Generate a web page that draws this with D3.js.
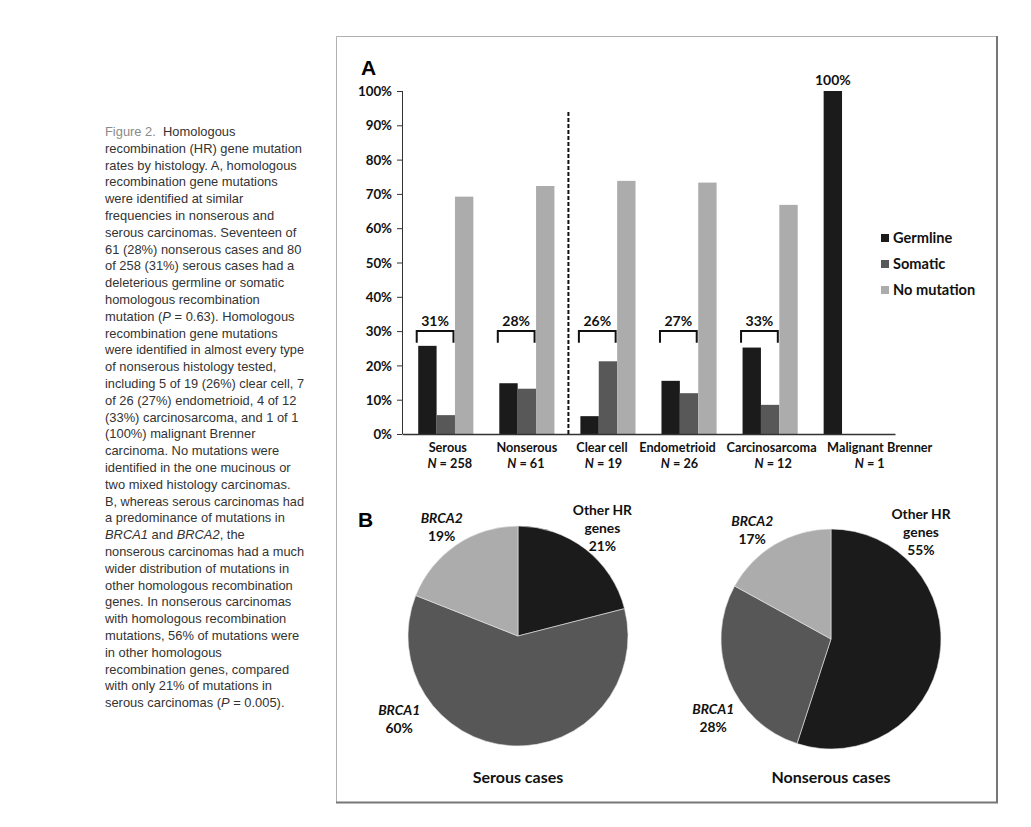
<!DOCTYPE html>
<html>
<head>
<meta charset="utf-8">
<script src="https://cdn.jsdelivr.net/npm/d3@7"></script>
<style>
  body { margin: 0; background: #fff; }
  svg { display: block; }
  .lbl { font-family: Lato, 'Open Sans', sans-serif; font-weight: 700; fill: #111; }
</style>
</head>
<body>
<div id="chart"></div>
<script>
// bar chart data (A)
const categories = ['Serous', 'Nonserous', 'Clear cell', 'Endometrioid', 'Carcinosarcoma', 'Malignant Brenner'];
const caseCounts = [258, 61, 19, 26, 12, 1];
const series = ['Germline', 'Somatic', 'No mutation'];
const germline = [25.7, 14.8, 5.2, 15.5, 25.2, 100];
const somatic = [5.5, 13.2, 21.2, 11.9, 8.5, 0];
const noMutation = [69.2, 72.3, 73.8, 73.3, 66.8, 0];
const hrRates = ['31%', '28%', '26%', '27%', '33%', null];
const yTicks = [0, 10, 20, 30, 40, 50, 60, 70, 80, 90, 100];

// pie data (B)
const pieGenes = ['Other HR genes', 'BRCA1', 'BRCA2'];
const serousShares = [21, 60, 19];
const nonserousShares = [55, 28, 17];

const caption = [
  '#Figure 2.#  Homologous',
  'recombination (HR) gene mutation',
  'rates by histology. A, homologous',
  'recombination gene mutations',
  'were identified at similar',
  'frequencies in nonserous and',
  'serous carcinomas. Seventeen of',
  '61 (28%) nonserous cases and 80',
  'of 258 (31%) serous cases had a',
  'deleterious germline or somatic',
  'homologous recombination',
  'mutation (*P* = 0.63). Homologous',
  'recombination gene mutations',
  'were identified in almost every type',
  'of nonserous histology tested,',
  'including 5 of 19 (26%) clear cell, 7',
  'of 26 (27%) endometrioid, 4 of 12',
  '(33%) carcinosarcoma, and 1 of 1',
  '(100%) malignant Brenner',
  'carcinoma. No mutations were',
  'identified in the one mucinous or',
  'two mixed histology carcinomas.',
  'B, whereas serous carcinomas had',
  'a predominance of mutations in',
  '*BRCA1* and *BRCA2*, the',
  'nonserous carcinomas had a much',
  'wider distribution of mutations in',
  'other homologous recombination',
  'genes. In nonserous carcinomas',
  'with homologous recombination',
  'mutations, 56% of mutations were',
  'in other homologous',
  'recombination genes, compared',
  'with only 21% of mutations in',
  'serous carcinomas (*P* = 0.005).'
];

const width = 1031, height = 827;
const svg = d3.select('#chart').append('svg')
  .attr('width', width)
  .attr('height', height);

// caption column
const cap = svg.append('g')
  .attr('font-family', "'Liberation Sans', Arial, sans-serif")
  .attr('font-size', 12.9)
  .attr('fill', '#333');

caption.forEach((line, i) => {
  const t = cap.append('text').attr('x', 105).attr('y', 136 + i * 16.8);
  line.split(/([#*][^#*]+[#*])/).filter(s => s.length).forEach(seg => {
    const ts = t.append('tspan').attr('xml:space', 'preserve');
    if (seg[0] === '*') ts.attr('font-style', 'italic').text(seg.slice(1, -1));
    else if (seg[0] === '#') ts.attr('fill', '#8a8a8a').text(seg.slice(1, -1));
    else ts.text(seg);
  });
  const w = t.node().getComputedTextLength();
  if (w > 199) t.attr('textLength', 199).attr('lengthAdjust', 'spacingAndGlyphs');
});

// frame
svg.append('path')
  .attr('d', 'M336.5,802 V36.5 H997')
  .attr('fill', 'none').attr('stroke', '#b0b0b0').attr('stroke-width', 1);
svg.append('path')
  .attr('d', 'M336,802.5 H997 V36')
  .attr('fill', 'none').attr('stroke', '#777').attr('stroke-width', 2);

svg.append('text').attr('x', 361).attr('y', 75)
  .attr('font-family', "'Liberation Sans', Arial, sans-serif")
  .attr('font-weight', 700).attr('font-size', 21).text('A');
svg.append('text').attr('x', 358).attr('y', 527)
  .attr('font-family', "'Liberation Sans', Arial, sans-serif")
  .attr('font-weight', 700).attr('font-size', 21).text('B');

// ---- A: grouped bars ----
const values = { 'Germline': germline, 'Somatic': somatic, 'No mutation': noMutation };
const colors = d3.scaleOrdinal().domain(series).range(['#1b1b1b', '#585858', '#acacac']);

const x = d3.scaleBand().domain(categories).range([402, 895])
  .paddingInner(0.32).paddingOuter(0.2);
const xs = d3.scaleBand().domain(series).range([0, x.bandwidth()]);
const y = d3.scaleLinear().domain([0, 100]).range([434, 91]);

const bars = svg.append('g');
categories.forEach((c, i) => {
  bars.selectAll(null)
    .data(series.filter(s => values[s][i] > 0))
    .join('rect')
    .attr('x', s => x(c) + xs(s))
    .attr('y', s => y(values[s][i]))
    .attr('width', xs.bandwidth())
    .attr('height', s => y(0) - y(values[s][i]))
    .attr('fill', s => colors(s));
});

const yAxis = svg.append('g')
  .attr('transform', 'translate(402,0)')
  .call(d3.axisLeft(y).tickValues(yTicks).tickFormat(d => d + '%').tickSize(5).tickSizeOuter(0).tickPadding(5));
yAxis.selectAll('path, line').attr('stroke', '#333');
yAxis.selectAll('text').attr('class', 'lbl').attr('font-size', 13.3).attr('dy', '0.35em');
yAxis.select('.domain').attr('d', 'M0.5,' + y(100) + 'V' + y(0));

// category labels are nudged sideways (as the original layout does) so they do not collide
const nameShift = [2, 0, -6, -11.5, 1.5, 28.5];
const countShift = [4, -1, -4.5, -9.5, 3, 18.5];
const xAxis = svg.append('g')
  .attr('transform', 'translate(0,' + y(0) + ')')
  .call(d3.axisBottom(x).tickSize(0).tickPadding(7));
xAxis.select('.domain').attr('stroke', '#333').attr('stroke-width', 1.3);
xAxis.selectAll('.tick text').each(function (c, i) {
  const t = d3.select(this).attr('class', 'lbl').attr('font-size', 12.7).text(null).attr('dy', '0.85em');
  t.append('tspan').attr('x', nameShift[i]).text(c);
  const n = t.append('tspan').attr('x', countShift[i]).attr('dy', '1.3em');
  n.append('tspan').attr('font-style', 'italic').text('N');
  n.append('tspan').text(' = ' + caseCounts[i]);
});

// dashed divider between serous and nonserous histologies
const divX = (x('Nonserous') + x.bandwidth() + x('Clear cell')) / 2 + 1;
svg.append('line')
  .attr('x1', divX).attr('x2', divX)
  .attr('y1', 112).attr('y2', y(0))
  .attr('stroke', '#111').attr('stroke-width', 2).attr('stroke-dasharray', '4,2');

// brackets with HR mutation rate
categories.forEach((c, i) => {
  if (!hrRates[i]) return;
  const x0 = x(c) + xs('Germline') - 1.5;
  const x1 = x(c) + xs('Somatic') + xs.bandwidth() - 1.5;
  const top = y(30), leg = y(26.6);
  svg.append('path')
    .attr('d', `M${x0},${leg}V${top}H${x1}V${leg}`)
    .attr('fill', 'none').attr('stroke', '#111').attr('stroke-width', 2);
  svg.append('text').attr('class', 'lbl').attr('font-size', 14)
    .attr('x', (x0 + x1) / 2).attr('y', top - 5)
    .attr('text-anchor', 'middle').text(hrRates[i]);
});

// 100% label over Malignant Brenner
svg.append('text').attr('class', 'lbl').attr('font-size', 14)
  .attr('x', x('Malignant Brenner') + xs('Germline') + xs.bandwidth() / 2)
  .attr('y', y(100) - 6).attr('text-anchor', 'middle').text('100%');

// legend
const legend = svg.append('g').attr('transform', 'translate(881,238)');
series.forEach((s, i) => {
  const g = legend.append('g').attr('transform', `translate(0,${i * 26})`);
  g.append('rect').attr('x', 0).attr('y', -4).attr('width', 8).attr('height', 8).attr('fill', colors(s));
  g.append('text').attr('class', 'lbl').attr('font-size', 14.6)
    .attr('x', 12).attr('dy', '0.35em').text(s);
});

// ---- B: pies ----
const pieColors = d3.scaleOrdinal().domain(pieGenes).range(['#1b1b1b', '#575757', '#acacac']);
const pie = d3.pie().sort(null).value(d => d.v);
const arc = d3.arc().innerRadius(0).outerRadius(110);

const pies = [
  { title: 'Serous cases', shares: serousShares, cx: 518, cy: 636,
    labelPos: [[38, 137], [235, 145], [325, 133]] },
  { title: 'Nonserous cases', shares: nonserousShares, cx: 831, cy: 639,
    labelPos: [[40, 140], [236, 142], [324, 134]] }
];

pies.forEach(p => {
  const g = svg.append('g').attr('transform', `translate(${p.cx},${p.cy})`);
  const data = pie(pieGenes.map((k, i) => ({ k, v: p.shares[i] })));
  g.selectAll('path').data(data).join('path')
    .attr('d', arc)
    .attr('fill', d => pieColors(d.data.k))
    .attr('stroke', '#e8e8e8').attr('stroke-width', 0.6);

  data.forEach((d, i) => {
    const [deg, r] = p.labelPos[i];
    const a = deg * Math.PI / 180;
    const lx = r * Math.sin(a), ly = -r * Math.cos(a);
    const lines = d.data.k === 'Other HR genes' ? ['Other HR', 'genes'] : [d.data.k];
    lines.push(d.data.v + '%');
    const t = g.append('text').attr('class', 'lbl').attr('font-size', 13.8)
      .attr('text-anchor', 'middle')
      .attr('transform', `translate(${lx},${ly - (lines.length - 1) * 9})`);
    lines.forEach((s, j) => {
      t.append('tspan').attr('x', 0).attr('y', j * 18).attr('dy', '0.35em')
        .attr('font-style', d.data.k.startsWith('BRCA') && j === 0 ? 'italic' : null)
        .text(s);
    });
  });

  svg.append('text').attr('class', 'lbl').attr('font-size', 16)
    .attr('text-anchor', 'middle').attr('x', p.cx).attr('y', 777).attr('dy', '0.35em').text(p.title);
});
</script>
</body>
</html>
